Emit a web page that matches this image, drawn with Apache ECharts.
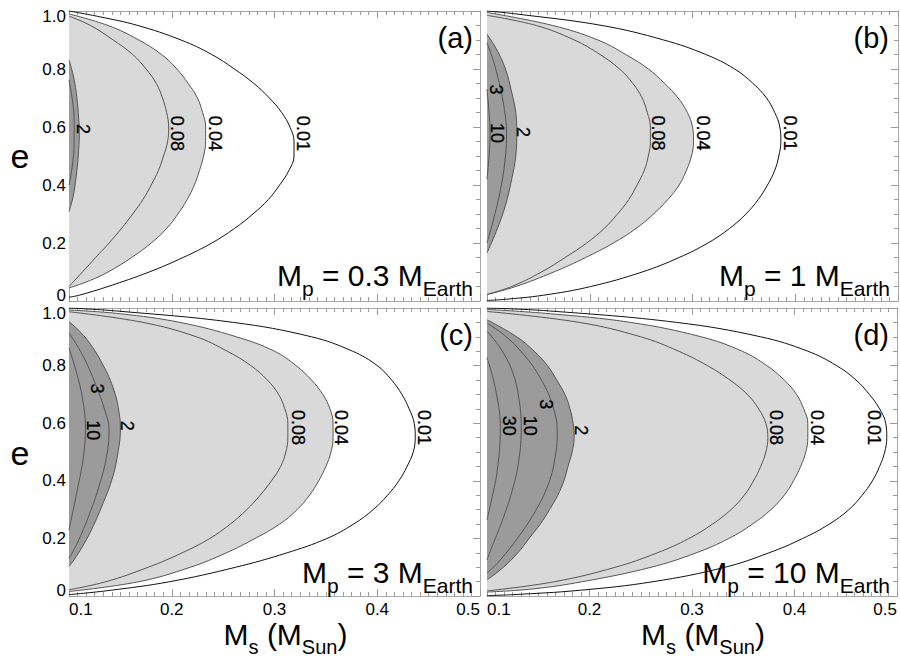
<!DOCTYPE html>
<html><head><meta charset="utf-8">
<script src="https://cdn.jsdelivr.net/npm/echarts@6/dist/echarts.min.js"></script>
<style>html,body{margin:0;padding:0;background:#fff}#c{width:900px;height:658px}</style>
</head><body><div id="c"></div>
<script>
// ---- axes / ticks ----
const xTickValues = [0.1, 0.2, 0.3, 0.4, 0.5];
const yTickValues = [0, 0.2, 0.4, 0.6, 0.8, 1.0];
const panelLetters = ['(a)', '(b)', '(c)', '(d)'];
const planetMasses = ['0.3', '1', '3', '10'];

// ---- contour curves [Ms, e] ----
// panel (a) Mp = 0.3
const a_001 = [[0.1,1.0],[0.13,0.98],[0.167,0.95],[0.209,0.9],[0.239,0.85],[0.261,0.8],[0.280,0.75],[0.295,0.7],[0.307,0.65],[0.315,0.6],[0.319,0.55],[0.319,0.5],[0.314,0.45],[0.305,0.4],[0.294,0.35],[0.279,0.3],[0.261,0.25],[0.239,0.2],[0.211,0.15],[0.178,0.1],[0.138,0.05],[0.110,0.02],[0.1,0.013]];
const a_004 = [[0.1,0.99],[0.138,0.95],[0.168,0.9],[0.190,0.85],[0.205,0.8],[0.216,0.75],[0.225,0.7],[0.230,0.65],[0.233,0.6],[0.233,0.55],[0.231,0.5],[0.227,0.45],[0.222,0.4],[0.215,0.35],[0.206,0.3],[0.195,0.25],[0.180,0.2],[0.161,0.15],[0.138,0.1],[0.120,0.07],[0.1,0.045]];
const a_008 = [[0.1,0.982],[0.121,0.95],[0.143,0.9],[0.162,0.85],[0.175,0.8],[0.185,0.75],[0.191,0.7],[0.195,0.65],[0.197,0.6],[0.196,0.55],[0.192,0.5],[0.187,0.45],[0.180,0.4],[0.172,0.35],[0.162,0.3],[0.151,0.25],[0.139,0.2],[0.126,0.15],[0.113,0.1],[0.1,0.05]];
const a_2 = [[0.1,0.831],[0.104,0.78],[0.107,0.72],[0.109,0.65],[0.110,0.58],[0.109,0.5],[0.107,0.43],[0.104,0.36],[0.1,0.308]];
const a_3 = [[0.1,0.762],[0.103,0.70],[0.105,0.62],[0.105,0.55],[0.103,0.46],[0.1,0.40]];
// panel (b) Mp = 1
const b_001 = [[0.1,1.0],[0.128,0.99],[0.212,0.95],[0.272,0.9],[0.313,0.85],[0.341,0.8],[0.359,0.75],[0.372,0.7],[0.380,0.65],[0.385,0.6],[0.386,0.55],[0.384,0.5],[0.380,0.45],[0.373,0.4],[0.364,0.35],[0.352,0.3],[0.336,0.25],[0.315,0.2],[0.287,0.15],[0.251,0.1],[0.201,0.05],[0.155,0.02],[0.115,0.005],[0.1,0.002]];
const b_004 = [[0.1,0.995],[0.164,0.95],[0.208,0.9],[0.235,0.85],[0.257,0.8],[0.273,0.75],[0.286,0.7],[0.295,0.65],[0.300,0.6],[0.301,0.55],[0.299,0.5],[0.294,0.45],[0.287,0.4],[0.276,0.35],[0.262,0.3],[0.245,0.25],[0.223,0.2],[0.196,0.15],[0.165,0.1],[0.128,0.05],[0.1,0.022]];
const b_008 = [[0.1,0.985],[0.148,0.95],[0.185,0.9],[0.210,0.85],[0.229,0.8],[0.242,0.75],[0.251,0.7],[0.256,0.65],[0.259,0.6],[0.259,0.55],[0.257,0.5],[0.253,0.45],[0.246,0.4],[0.238,0.35],[0.227,0.3],[0.214,0.25],[0.197,0.2],[0.176,0.15],[0.153,0.1],[0.124,0.05],[0.1,0.023]];
const b_2 = [[0.1,0.92],[0.109,0.87],[0.118,0.80],[0.124,0.72],[0.128,0.65],[0.129,0.585],[0.128,0.50],[0.124,0.42],[0.118,0.33],[0.109,0.24],[0.1,0.166]];
const b_3 = [[0.1,0.89],[0.106,0.83],[0.112,0.75],[0.117,0.66],[0.119,0.58],[0.118,0.50],[0.114,0.40],[0.107,0.29],[0.1,0.2]];
const b_10 = [[0.1,0.73],[0.102,0.65],[0.103,0.58],[0.102,0.50],[0.1,0.42]];
// panel (c) Mp = 3
const c_001 = [[0.1,1.0],[0.145,0.99],[0.260,0.95],[0.336,0.9],[0.376,0.85],[0.400,0.8],[0.414,0.75],[0.424,0.7],[0.431,0.65],[0.436,0.6],[0.437,0.55],[0.435,0.5],[0.429,0.45],[0.421,0.4],[0.410,0.35],[0.396,0.3],[0.377,0.25],[0.351,0.2],[0.312,0.15],[0.262,0.1],[0.198,0.05],[0.140,0.02],[0.1,0.005]];
const c_004 = [[0.1,0.993],[0.150,0.98],[0.208,0.95],[0.263,0.9],[0.300,0.85],[0.321,0.8],[0.336,0.75],[0.347,0.7],[0.354,0.65],[0.357,0.6],[0.357,0.55],[0.355,0.5],[0.350,0.45],[0.343,0.4],[0.334,0.35],[0.322,0.3],[0.305,0.25],[0.281,0.2],[0.253,0.15],[0.218,0.1],[0.168,0.05],[0.1,0.016]];
const c_008 = [[0.1,0.987],[0.172,0.95],[0.224,0.9],[0.254,0.85],[0.277,0.8],[0.293,0.75],[0.304,0.7],[0.310,0.65],[0.313,0.6],[0.313,0.55],[0.311,0.5],[0.306,0.45],[0.297,0.4],[0.286,0.35],[0.273,0.3],[0.257,0.25],[0.237,0.2],[0.210,0.15],[0.177,0.1],[0.136,0.05],[0.1,0.022]];
const c_2 = [[0.1,0.953],[0.1165,0.895],[0.133,0.803],[0.144,0.712],[0.149,0.631],[0.150,0.579],[0.148,0.505],[0.1425,0.413],[0.133,0.321],[0.120,0.217],[0.107,0.137],[0.1,0.103]];
const c_3 = [[0.1,0.913],[0.113,0.838],[0.126,0.734],[0.135,0.643],[0.139,0.579],[0.137,0.493],[0.130,0.390],[0.120,0.286],[0.108,0.183],[0.1,0.131]];
const c_10 = [[0.1,0.861],[0.107,0.780],[0.113,0.689],[0.116,0.585],[0.114,0.482],[0.108,0.367],[0.102,0.263],[0.1,0.229]];
// panel (d) Mp = 10
const d_001 = [[0.1,1.0],[0.160,0.99],[0.285,0.95],[0.367,0.9],[0.413,0.85],[0.441,0.8],[0.460,0.75],[0.473,0.7],[0.483,0.65],[0.489,0.6],[0.490,0.55],[0.488,0.5],[0.483,0.45],[0.476,0.4],[0.466,0.35],[0.453,0.3],[0.434,0.25],[0.408,0.2],[0.375,0.15],[0.332,0.1],[0.262,0.05],[0.190,0.02],[0.125,0.005],[0.1,0.002]];
const d_004 = [[0.1,0.995],[0.162,0.98],[0.240,0.95],[0.309,0.9],[0.349,0.85],[0.373,0.8],[0.390,0.75],[0.402,0.7],[0.409,0.65],[0.413,0.6],[0.413,0.55],[0.411,0.5],[0.406,0.45],[0.399,0.4],[0.390,0.35],[0.377,0.3],[0.359,0.25],[0.336,0.2],[0.304,0.15],[0.260,0.1],[0.193,0.05],[0.145,0.025],[0.1,0.014]];
const d_008 = [[0.1,0.988],[0.190,0.95],[0.250,0.9],[0.287,0.85],[0.315,0.8],[0.337,0.75],[0.354,0.7],[0.365,0.65],[0.372,0.6],[0.374,0.55],[0.372,0.5],[0.367,0.45],[0.360,0.4],[0.351,0.35],[0.338,0.3],[0.320,0.25],[0.297,0.2],[0.266,0.15],[0.225,0.1],[0.166,0.05],[0.1,0.018]];
const d_2 = [[0.1,0.959],[0.129,0.9],[0.146,0.85],[0.159,0.8],[0.168,0.75],[0.176,0.7],[0.181,0.65],[0.184,0.6],[0.185,0.55],[0.183,0.5],[0.179,0.45],[0.175,0.4],[0.169,0.35],[0.161,0.3],[0.152,0.25],[0.141,0.2],[0.130,0.15],[0.116,0.1],[0.1,0.056]];
const d_3 = [[0.1,0.947],[0.1165,0.907],[0.136,0.838],[0.152,0.757],[0.1636,0.666],[0.1685,0.574],[0.167,0.493],[0.160,0.390],[0.1457,0.286],[0.126,0.183],[0.110,0.114],[0.1,0.080]];
const d_10 = [[0.1,0.92],[0.113,0.861],[0.1247,0.780],[0.131,0.689],[0.1334,0.585],[0.131,0.470],[0.1247,0.367],[0.115,0.263],[0.1036,0.160],[0.1,0.126]];
const d_30 = [[0.1,0.828],[0.108,0.724],[0.113,0.585],[0.110,0.436],[0.1036,0.321],[0.1,0.264]];

// ---- contour labels [Ms, e, text] ----
const a_labels = [[0.1136,0.593,'2'],[0.2048,0.578,'0.08'],[0.2424,0.578,'0.04'],[0.328,0.578,'0.01']];
const b_labels = [[0.109,0.729,'3'],[0.110,0.579,'10'],[0.135,0.583,'2'],[0.2664,0.579,'0.08'],[0.310,0.579,'0.04'],[0.3946,0.579,'0.01']];
const c_labels = [[0.127,0.721,'3'],[0.123,0.576,'10'],[0.156,0.591,'2'],[0.3226,0.585,'0.08'],[0.3647,0.585,'0.04'],[0.4458,0.585,'0.01']];
const d_labels = [[0.1578,0.666,'3'],[0.1214,0.591,'30'],[0.1416,0.591,'10'],[0.1918,0.576,'2'],[0.3816,0.585,'0.08'],[0.4215,0.585,'0.04'],[0.4773,0.585,'0.01']];

const panelCurves = [
  [['0.01',a_001],['0.04',a_004],['0.08',a_008],['2',a_2],['3',a_3]],
  [['0.01',b_001],['0.04',b_004],['0.08',b_008],['2',b_2],['3',b_3],['10',b_10]],
  [['0.01',c_001],['0.04',c_004],['0.08',c_008],['2',c_2],['3',c_3],['10',c_10]],
  [['0.01',d_001],['0.04',d_004],['0.08',d_008],['2',d_2],['3',d_3],['10',d_10],['30',d_30]]
];
const panelLabels = [a_labels, b_labels, c_labels, d_labels];

// ---- styling ----
const FONT = '"Liberation Sans", Arial, Helvetica, sans-serif';
const LIGHT = '#d9d9d9', DARK = '#9b9b9b';
const grids = [
  {left: 69, top: 11, width: 411, height: 290},
  {left: 487, top: 11, width: 411, height: 290},
  {left: 69, top: 308, width: 411, height: 290},
  {left: 487, top: 308, width: 411, height: 290}
];
const frameColor = '#a8a8a8', tickColor = '#9a9a9a';
const mainTok = {fontSize: 30, lineHeight: 30, verticalAlign: 'top', fontFamily: FONT, fontWeight: 'normal', color: '#000'};
const subTok = {fontSize: 21, lineHeight: 21, verticalAlign: 'top', padding: [18, 0, 0, 0], fontFamily: FONT, fontWeight: 'normal', color: '#000'};
const tickTok = {fontSize: 17, lineHeight: 8, fontFamily: FONT, color: '#000'};

const xAxes = [], yAxes = [], series = [], titles = [];
grids.forEach((g, i) => {
  const common = {
    type: 'value', gridIndex: i,
    axisLine: {show: true, onZero: false, lineStyle: {color: frameColor, width: 1}},
    axisTick: {show: true, inside: true, length: 7, lineStyle: {color: tickColor}},
    minorTick: {show: true, length: 4, lineStyle: {color: tickColor}},
    splitLine: {show: false}, minorSplitLine: {show: false}
  };
  const xLabel = {
    show: i >= 2, fontSize: 17, color: '#000', fontFamily: FONT, margin: 5,
    alignMinLabel: 'left', alignMaxLabel: 'right',
    formatter: v => v.toFixed(1)
  };
  xAxes.push(Object.assign({}, common, {
    position: 'bottom', min: xTickValues[0], max: xTickValues[xTickValues.length - 1], interval: 0.1,
    minorTick: Object.assign({}, common.minorTick, {splitNumber: 12}),
    axisLabel: xLabel,
    name: i >= 2 ? '{m|M}{s|s}{m| (M}{s|Sun}{m|)}' : '',
    nameLocation: 'middle', nameGap: 21,
    nameTextStyle: {padding: [0, 0, 0, 22], rich: {
      m: Object.assign({}, mainTok, {fontSize: 30, lineHeight: 30}),
      s: Object.assign({}, subTok, {fontSize: 20, lineHeight: 20})
    }}
  }));
  xAxes.push(Object.assign({}, common, {
    position: 'top', min: xTickValues[0], max: xTickValues[xTickValues.length - 1], interval: 0.1,
    minorTick: Object.assign({}, common.minorTick, {splitNumber: 12}),
    axisLabel: {show: false}
  }));
  const yLabel = {
    show: i % 2 === 0, fontSize: 17, color: '#000', fontFamily: FONT, margin: 3, lineHeight: 8,
    verticalAlignMinLabel: 'bottom', verticalAlignMaxLabel: 'top',
    formatter: v => (v === 0 ? '{lo|0}' : (v === 1 ? '{hi|1.0}' : '{n|' + v.toFixed(1) + '}')),
    rich: {
      n: tickTok,
      lo: Object.assign({}, tickTok, {padding: [0, 0, 3, 0]}),
      hi: Object.assign({}, tickTok, {padding: [3, 0, 0, 0]})
    }
  };
  yAxes.push(Object.assign({}, common, {
    position: 'left', min: yTickValues[0], max: yTickValues[yTickValues.length - 1], interval: 0.2,
    minorTick: Object.assign({}, common.minorTick, {splitNumber: 4}),
    axisLabel: yLabel
  }));
  yAxes.push(Object.assign({}, common, {
    position: 'right', min: yTickValues[0], max: yTickValues[yTickValues.length - 1], interval: 0.2,
    minorTick: Object.assign({}, common.minorTick, {splitNumber: 4}),
    axisLabel: {show: false}
  }));

  panelCurves[i].forEach(([lvl, pts], k) => {
    const fill = lvl === '0.04' ? LIGHT : (lvl === '2' ? DARK : null);
    series.push({
      type: 'line', name: panelLetters[i] + ' ' + lvl,
      xAxisIndex: 2 * i, yAxisIndex: 2 * i,
      data: pts, smooth: 0.4, symbol: 'none', silent: true, clip: true,
      lineStyle: {color: lvl === '0.01' ? '#111' : '#555', width: 1},
      areaStyle: fill ? {color: fill, opacity: 1} : null,
      z: 2 + k
    });
  });
  series.push({
    type: 'scatter', xAxisIndex: 2 * i, yAxisIndex: 2 * i, silent: true, z: 20,
    symbolSize: 1, itemStyle: {color: 'rgba(0,0,0,0)'},
    data: panelLabels[i].map(l => ({value: [l[0], l[1]], name: l[2]})),
    label: {show: true, position: 'inside', formatter: '{b}', rotate: -90, opacity: 1,
      fontSize: 18, color: '#000', fontFamily: FONT, fontWeight: 'normal',
      textBorderColor: '#000', textBorderWidth: 0.3}
  });

  // panel letter
  titles.push({
    text: panelLetters[i], right: 900 - (g.left + g.width) + (i % 2 ? 9 : 7), top: g.top + 12, padding: 0,
    textStyle: {fontSize: 29, fontWeight: 'normal', fontFamily: FONT, color: '#000', lineHeight: 29}
  });
  // planet mass annotation
  titles.push({
    text: '{m|M}{s|p}{m| = ' + planetMasses[i] + ' M}{s|Earth}',
    right: 900 - (g.left + g.width) + (i % 2 ? 8 : 7), bottom: 658 - (g.top + g.height - 16 + 14), padding: 0,
    textStyle: {fontWeight: 'normal', rich: {m: mainTok, s: subTok}}
  });
});

const chart = echarts.init(document.getElementById('c'), null, {renderer: 'svg'});
chart.setOption({
  animation: false,
  backgroundColor: '#fff',
  grid: grids.map(g => Object.assign({containLabel: false}, g)),
  xAxis: xAxes,
  yAxis: yAxes,
  title: titles,
  graphic: [
    {type: 'text', x: 20, y: 156, style: {text: 'e', font: '34px ' + FONT, fill: '#000', textAlign: 'center', textVerticalAlign: 'middle'}},
    {type: 'text', x: 20, y: 453, style: {text: 'e', font: '34px ' + FONT, fill: '#000', textAlign: 'center', textVerticalAlign: 'middle'}}
  ],
  series: series
});
</script>
</body></html>
